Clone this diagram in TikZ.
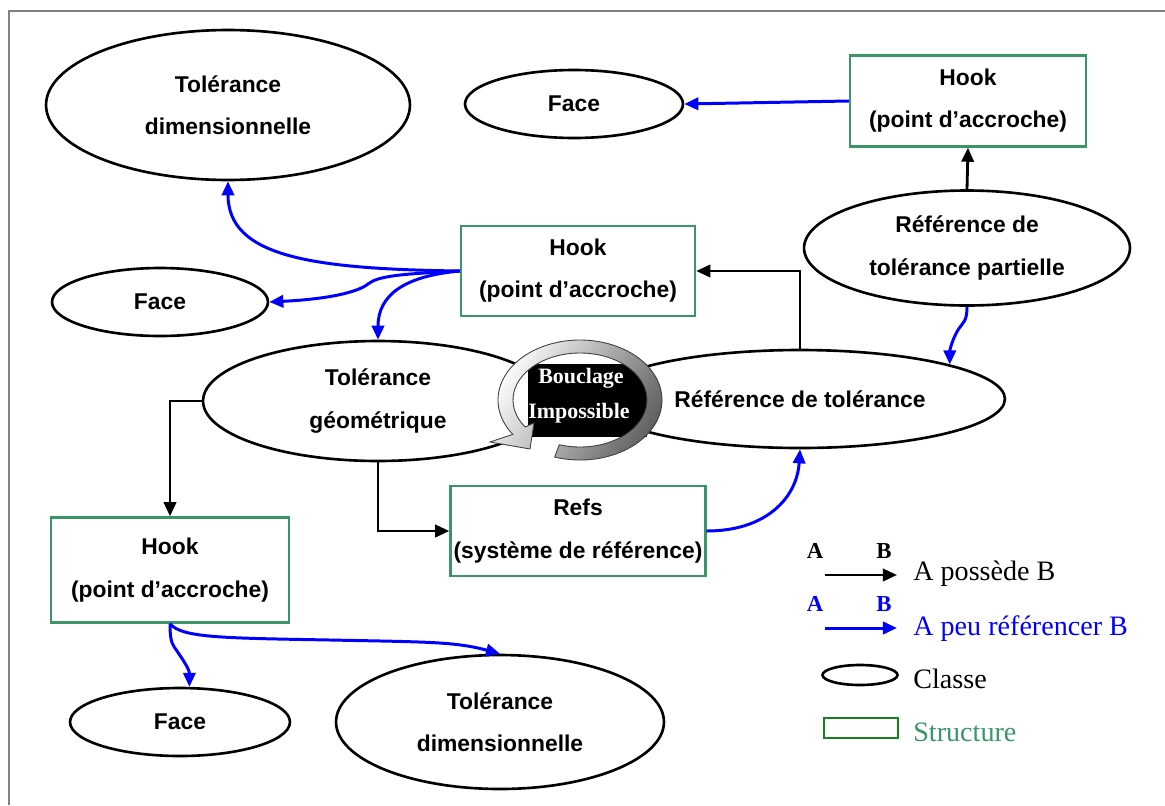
\documentclass[tikz,border=0pt]{standalone}
\usepackage{fontspec}
\setmainfont{Liberation Serif}
\newfontfamily\arialfont{Liberation Sans}
\usetikzlibrary{arrows.meta, positioning, shapes.geometric, calc}
\definecolor{vertstruct}{RGB}{58,150,104}
\definecolor{vertlegende}{RGB}{20,130,30}
\definecolor{bleuref}{RGB}{0,0,255}
\definecolor{cadre}{RGB}{128,128,128}

\begin{document}
\begin{tikzpicture}[x=0.02cm, y=-0.02cm,
    classe/.style={ellipse, draw, line width=1.5pt, fill=white, inner sep=0pt, align=center,
        font=\arialfont\bfseries\fontsize{13}{24}\selectfont},
    structure/.style={rectangle, draw=vertstruct, line width=1.4pt, fill=white, inner sep=0pt, align=center,
        font=\arialfont\bfseries\fontsize{13}{24}\selectfont},
    possede/.style={-{Triangle[length=8pt,width=7pt]}, line width=1.6pt},
    reference/.style={-{Triangle[length=8pt,width=7pt]}, line width=1.7pt, draw=bleuref},
    legende/.style={anchor=base west, inner sep=0pt, font=\fontsize{16}{18}\selectfont},
    lettre/.style={anchor=base, font=\bfseries\fontsize{13}{15}\selectfont}]
    \useasboundingbox (0,0) rectangle (1165,805);

    % cadre
    \draw[cadre, line width=1pt] (9,805) -- (9,11) -- (1165,11);

    % classes et structures
    \node[classe, minimum width=7.28cm, minimum height=3cm] (tdA) at (228,105) {Tolérance\\dimensionnelle};
    \node[classe, minimum width=4.36cm, minimum height=1.36cm] (faceA) at (574,104) {Face};
    \node[structure, minimum width=4.72cm, minimum height=1.82cm] (hookA) at (968,101) {Hook\\(point d’accroche)};
    \node[classe, minimum width=6.52cm, minimum height=2.3cm] (rtp) at (967,248) {Référence de\\tolérance partielle};
    \node[structure, minimum width=4.68cm, minimum height=1.8cm] (hookB) at (578,271) {Hook\\(point d’accroche)};
    \node[classe, minimum width=4.32cm, minimum height=1.36cm] (faceB) at (160,302) {Face};
    \node[classe, minimum width=7cm, minimum height=2.4cm] (tg) at (378,401) {Tolérance\\géométrique};
    \node[classe, minimum width=8.2cm, minimum height=1.96cm] (rt) at (800,399) {Référence de tolérance};
    \node[structure, minimum width=4.76cm, minimum height=2.1cm] (hookC) at (170,570) {Hook\\(point d’accroche)};
    \node[structure, minimum width=5.1cm, minimum height=1.8cm] (refs) at (578,531) {Refs\\(système de référence)};
    \node[classe, minimum width=4.4cm, minimum height=1.36cm] (faceC) at (180,722) {Face};
    \node[classe, minimum width=6.56cm, minimum height=2.68cm] (tdB) at (500,722) {Tolérance\\dimensionnelle};

    % bouclage impossible
    \coordinate (boucle) at (580,400);
    \fill[white] (boucle) ellipse [x radius=67, y radius=47];
    \fill[black] (528,364) rectangle (647,437);
    \shadedraw[left color=white, right color=black!65, shading angle=60, draw=black!75, line width=0.5pt]
        (boucle) ++(108:82 and 60) arc[start angle=108, end angle=-215, x radius=82, y radius=60]
        -- (490,442) -- (530,449) -- (534,423)
        -- ($(boucle)+(-215:67 and 47)$) arc[start angle=-215, end angle=108, x radius=67, y radius=47] -- cycle;
    \node[anchor=base, text=white, font=\bfseries\fontsize{12.5}{14}\selectfont] (bouclage) at (581,383) {Bouclage};
    \node[anchor=base, text=white, font=\bfseries\fontsize{12.5}{14}\selectfont] (impossible) at (579,418) {Impossible};

    % A possede B
    \draw[possede] (rt.north) |- (hookB.east);
    \draw[possede] (rtp.north) -- (hookA.south);
    \draw[possede] (tg.west) -| (hookC.north);
    \draw[possede] (tg.south) |- (refs.west);

    % A peut referencer B
    \draw[reference] (hookA.west) -- (faceA.east);
    \draw[reference] (hookB.west) .. controls +(-150,-2) and +(0,75) .. (tdA.south);
    \draw[reference] (hookB.west) .. controls +(-60,3) and +(10,-8) .. (368,284)
        .. controls +(-10,8) and +(60,-3) .. (faceB.east);
    \draw[reference] (hookB.west) .. controls +(-55,5) and +(0,-45) .. (tg.north);
    \draw[reference] (rtp.south) .. controls +(0,15) and +(5,-8) .. (958,330)
        .. controls +(-5,8) and +(0,-15) .. (rt.13);
    \draw[reference] (refs.east) .. controls +(60,0) and +(-3,48) .. (rt.south);
    \draw[reference] (hookC.south) .. controls +(0,20) and +(-4,-6) .. (177,651)
        .. controls +(4,6) and +(0,-18) .. (faceC.75);
    \draw[reference] (hookC.south) .. controls +(12,14) and +(-110,-2) .. (330,640)
        .. controls +(100,2) and +(-45,-12) .. (tdB.north);

    % legende
    \node[lettre] (legA1) at (815,558) {A};
    \node[lettre] (legB1) at (884,558) {B};
    \coordinate (legD1) at (825,575);
    \coordinate (legF1) at (897,575);
    \draw[possede] (legD1) -- (legF1);
    \node[legende] (legT1) at (913,580) {A possède B};

    \node[lettre, text=bleuref] (legA2) at (815,611) {A};
    \node[lettre, text=bleuref] (legB2) at (884,611) {B};
    \coordinate (legD2) at (825,628);
    \coordinate (legF2) at (897,628);
    \draw[reference] (legD2) -- (legF2);
    \node[legende, text=bleuref] (legT2) at (913,635) {A peu référencer B};

    \node[ellipse, draw, line width=1.5pt, minimum width=1.5cm, minimum height=0.4cm, inner sep=0pt] (legC) at (860,675) {};
    \node[legende] (legT3) at (913,688) {Classe};

    \node[rectangle, draw=vertlegende, line width=1.5pt, minimum width=1.48cm, minimum height=0.4cm, inner sep=0pt] (legS) at (861,728) {};
    \node[legende, text=vertstruct] (legT4) at (913,741) {Structure};
\end{tikzpicture}
\end{document}
